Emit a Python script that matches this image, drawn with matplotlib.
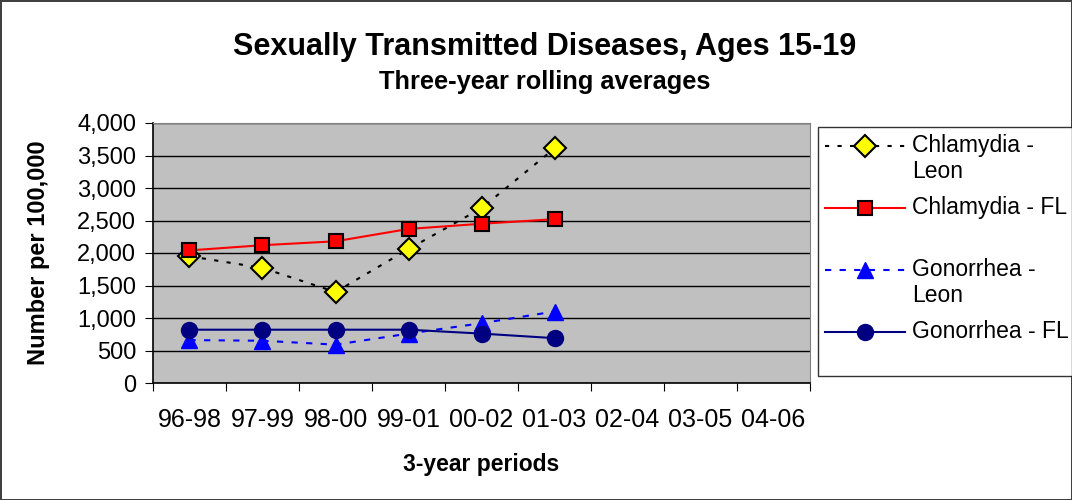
import matplotlib
matplotlib.use('Agg')
import matplotlib.pyplot as plt
import numpy as np
from matplotlib.ticker import FuncFormatter
from matplotlib.legend_handler import HandlerLine2D

plt.rcParams['font.family'] = ['Liberation Sans', 'DejaVu Sans']

periods = ['96-98', '97-99', '98-00', '99-01', '00-02', '01-03', '02-04', '03-05', '04-06']
chlamydia_leon = [1950, 1770, 1400, 2060, 2690, 3610]
chlamydia_fl = [2040, 2120, 2180, 2370, 2450, 2520]
gonorrhea_leon = [660, 650, 590, 760, 920, 1100]
gonorrhea_fl = [820, 820, 820, 820, 760, 690]


class TopLineHandler(HandlerLine2D):
    """Legend handle lined up with the first line of a two-line label."""
    def __init__(self, dy, **kw):
        super().__init__(**kw)
        self.dy = dy

    def create_artists(self, legend, orig_handle, xdescent, ydescent,
                       width, height, fontsize, trans):
        arts = super().create_artists(legend, orig_handle, xdescent, ydescent,
                                      width, height, fontsize, trans)
        for a in arts:
            a.set_ydata(np.asarray(a.get_ydata()) + self.dy)
        return arts


fig = plt.figure(figsize=(10.72, 5), dpi=100)
fig.patch.set_edgecolor('#404040')
fig.patch.set_linewidth(2)
ax = fig.add_axes([0.1427, 0.234, 0.613, 0.52])
ax.set_facecolor('#C0C0C0')

x = list(range(len(chlamydia_leon)))
ax.plot(x, chlamydia_leon, color='black', ls=(0, (2, 4)), lw=1.5, marker='D',
        ms=11.5, mfc='yellow', mec='black', mew=1.5, label='Chlamydia -\nLeon', zorder=3)
ax.plot(x, chlamydia_fl, color='red', ls='-', lw=1.5, marker='s',
        ms=10, mfc='red', mec='black', mew=1.5, label='Chlamydia - FL\n ', zorder=3)
ax.plot(x, gonorrhea_leon, color='blue', ls=(0, (3, 4)), lw=1.5, marker='^',
        ms=12, mfc='blue', mec='blue', label='Gonorrhea -\nLeon', zorder=3)
ax.plot(x, gonorrhea_fl, color='#000080', ls='-', lw=1.5, marker='o',
        ms=11.5, mfc='#000080', mec='#000080', label='Gonorrhea - FL\n ', zorder=3)

ax.set_xlim(-0.5, len(periods) - 0.5)
ax.set_ylim(0, 4000)
ax.set_yticks(range(0, 4001, 500))
ax.yaxis.set_major_formatter(FuncFormatter(lambda v, p: f'{int(v):,}'))
ax.grid(axis='y', color='black', lw=1)
ax.set_axisbelow(True)

ax.set_xticks([i - 0.5 for i in range(len(periods) + 1)])
ax.set_xticklabels([])
ax.set_xticks(range(len(periods)), minor=True)
ax.set_xticklabels(periods, minor=True)
ax.tick_params(axis='x', which='minor', length=0, pad=18, labelsize=18)
ax.tick_params(axis='x', which='major', length=6, direction='out', color='black')
ax.tick_params(axis='y', length=6, direction='out', labelsize=17, pad=6)

for side in ['left', 'bottom']:
    ax.spines[side].set_color('black')
    ax.spines[side].set_linewidth(1.2)
for side in ['top', 'right']:
    ax.spines[side].set_color('#808080')

ax.set_xlabel('3-year periods', fontsize=16.5, fontweight='bold', labelpad=15)
ax.set_ylabel('Number per 100,000', fontsize=17, fontweight='bold', labelpad=20)

fig.text(0.508, 0.905, 'Sexually Transmitted Diseases, Ages 15-19', ha='center',
         va='center', fontsize=22, fontweight='bold')
fig.text(0.508, 0.836, 'Three-year rolling averages', ha='center', va='center',
         fontsize=18.3, fontweight='bold')

handler = TopLineHandler(dy=10)
leg = fig.legend(loc='upper left', bbox_to_anchor=(0.763, 0.746), fontsize=16.5,
                 frameon=True, fancybox=False, edgecolor='black', borderpad=0.3,
                 handlelength=3.5, handletextpad=0.3, labelspacing=0.56,
                 borderaxespad=0,
                 handler_map={l: handler for l in ax.get_lines()})
leg.get_frame().set_linewidth(1)
for t in leg.get_texts():
    t.set_linespacing(1.18)

fig.savefig('out.png', dpi=100)
